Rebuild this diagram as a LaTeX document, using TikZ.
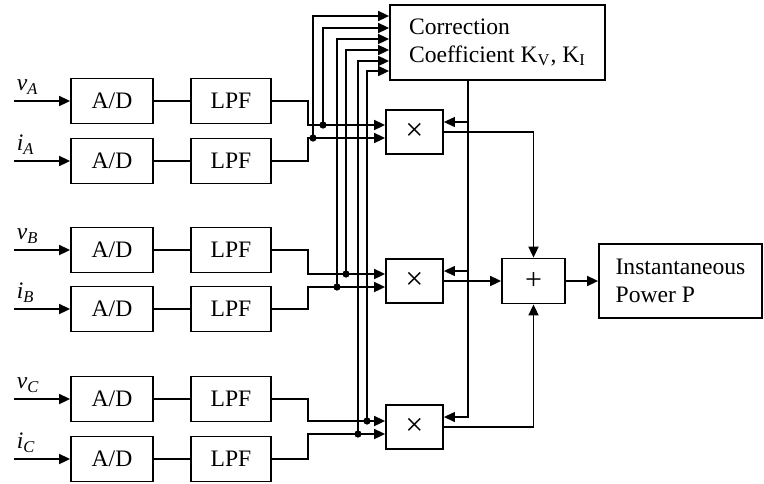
\documentclass[tikz,border=0pt]{standalone}
\usepackage{fontspec}
\setmainfont{Liberation Serif}
\usetikzlibrary{arrows.meta}
\begin{document}
\begin{tikzpicture}[x=0.5pt,y=-0.5pt,line width=0.85pt,
  font=\fontsize{11.8}{14}\selectfont,
  >={Triangle[length=5.5pt,width=5pt]},
  blk/.style={draw,rectangle,line width=0.9pt,minimum width=41pt,minimum height=22.5pt,inner sep=0pt},
  opbox/.style={draw,rectangle,line width=0.9pt,minimum width=28.5pt,minimum height=22pt,inner sep=0pt,font=\fontsize{16}{16}\selectfont},
  txtbox/.style={draw,rectangle,line width=0.9pt,align=left,inner sep=0pt},
  sig/.style={anchor=south west,inner xsep=1pt,inner ysep=3pt,font=\fontsize{11.8}{14}\selectfont\itshape},
  kline/.style={->,line width=0.6pt}]
\useasboundingbox (0,0) rectangle (764,483);
\node[blk] (adva) at (112,101) {A/D};
\node[blk] (adia) at (112,161) {A/D};
\node[blk] (advb) at (112,250) {A/D};
\node[blk] (adib) at (112,309) {A/D};
\node[blk] (advc) at (112,399) {A/D};
\node[blk] (adic) at (112,459) {A/D};
\node[blk,minimum width=40pt] (lpfva) at (231,101) {LPF};
\node[blk,minimum width=40pt] (lpfia) at (231,161) {LPF};
\node[blk,minimum width=40pt] (lpfvb) at (231,250) {LPF};
\node[blk,minimum width=40pt] (lpfib) at (231,309) {LPF};
\node[blk,minimum width=40pt] (lpfvc) at (231,399) {LPF};
\node[blk,minimum width=40pt] (lpfic) at (231,459) {LPF};
\node[sig] (lva) at (14,101) {v\textsubscript{A}};
\node[sig] (lia) at (14,161) {i\textsubscript{A}};
\node[sig] (lvb) at (14,250) {v\textsubscript{B}};
\node[sig] (lib) at (14,309) {i\textsubscript{B}};
\node[sig] (lvc) at (14,399) {v\textsubscript{C}};
\node[sig] (lic) at (14,459) {i\textsubscript{C}};
\node[opbox] (mula) at (414.5,132) {×};
\node[opbox] (mulb) at (414.5,281) {×};
\node[opbox] (mulc) at (414.5,427) {×};
\node[opbox,minimum width=31.5pt,minimum height=22.5pt,font=\fontsize{15}{15}\selectfont] (sum) at (533.5,281) {+};
\node[txtbox,minimum width=107.5pt,minimum height=37.5pt] (corr) at (497.5,42.5) {Correction\\Coefficient K\textsubscript{V}, K\textsubscript{I}};
\node[txtbox,minimum width=81.5pt,minimum height=37pt] (pow) at (680.5,281) {Instantaneous\\Power P};
\draw[->] (lva.south west) -- (adva);
\draw[->] (lia.south west) -- (adia);
\draw[->] (lvb.south west) -- (advb);
\draw[->] (lib.south west) -- (adib);
\draw[->] (lvc.south west) -- (advc);
\draw[->] (lic.south west) -- (adic);
\draw (adva) -- (lpfva);
\draw (adia) -- (lpfia);
\draw (advb) -- (lpfvb);
\draw (adib) -- (lpfib);
\draw (advc) -- (lpfvc);
\draw (adic) -- (lpfic);
\coordinate (va) at (323,125);
\coordinate (ia) at (313,138);
\coordinate (vb) at (346,274);
\coordinate (ib) at (337,287);
\coordinate (vc) at (367,421);
\coordinate (ic) at (358,434);
\draw[->] (lpfva.east) -- ++(36,0) |- (va) -- (mula.west |- va);
\draw[->] (lpfia.east) -- ++(36,0) |- (ia) -- (mula.west |- ia);
\draw[->] (lpfvb.east) -- ++(36,0) |- (vb) -- (mulb.west |- vb);
\draw[->] (lpfib.east) -- ++(36,0) |- (ib) -- (mulb.west |- ib);
\draw[->] (lpfvc.east) -- ++(36,0) |- (vc) -- (mulc.west |- vc);
\draw[->] (lpfic.east) -- ++(36,0) |- (ic) -- (mulc.west |- ic);
\draw[->] (ia) |- (corr.west |- 0,16);
\draw[->] (va) |- (corr.west |- 0,28);
\draw[->] (ib) |- (corr.west |- 0,39);
\draw[->] (vb) |- (corr.west |- 0,50);
\draw[->] (ic) |- (corr.west |- 0,61);
\draw[->] (vc) |- (corr.west |- 0,71);
\fill (va) circle (1.8pt) (ia) circle (1.8pt) (vb) circle (1.8pt)
  (ib) circle (1.8pt) (vc) circle (1.8pt) (ic) circle (1.8pt);
\coordinate (kt) at (corr.south -| 468,0);
\draw[kline] (kt) |- (mulc.east |- 0,417);
\draw[kline] (kt |- 0,122) -- (mula.east |- 0,122);
\draw[kline] (kt |- 0,271) -- (mulb.east |- 0,271);
\draw[->] (mula.east) -| (sum.north);
\draw[->] (mulb) -- (sum);
\draw[->] (mulc.east) -| (sum.south);
\draw[->] (sum) -- (pow);
\end{tikzpicture}
\end{document}
